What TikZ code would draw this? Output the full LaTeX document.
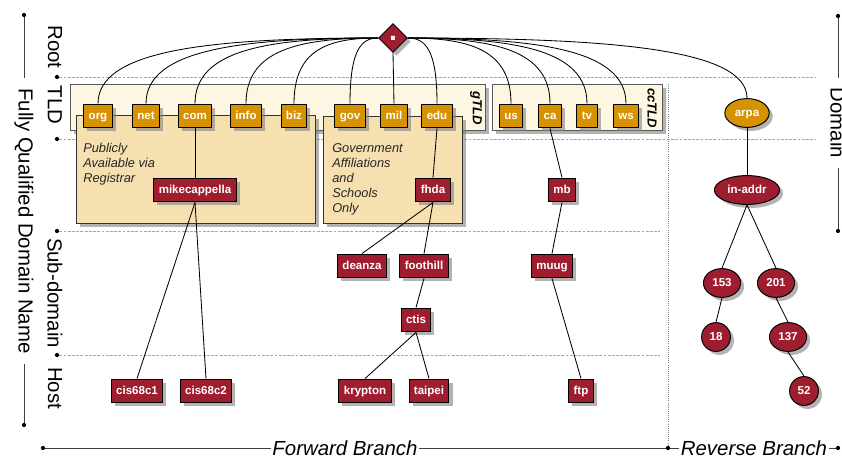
\documentclass[tikz,border=0pt]{standalone}
\usepackage{fontspec}
\setmainfont{Liberation Sans}
\usetikzlibrary{shapes.geometric,shadows,calc}

\definecolor{dnsred}{RGB}{158,30,48}
\definecolor{dnsorange}{RGB}{214,146,0}
\definecolor{wheatfill}{RGB}{246,224,176}
\definecolor{creamfill}{RGB}{253,246,226}

\begin{document}
\begin{tikzpicture}[x=0.025cm, y=-0.025cm,
	shade/.style={drop shadow={shadow xshift=2.5pt, shadow yshift=-2.5pt, opacity=0.6}},
	hostbox/.style={draw=black, line width=0.7pt, fill=dnsred, text=white, shade,
		font=\fontsize{8.2}{10}\selectfont\bfseries, text height=6pt, text depth=1.7pt,
		inner xsep=3.5pt, inner ysep=0pt, minimum height=17pt},
	tldbox/.style={hostbox, fill=dnsorange},
	revnode/.style={hostbox, ellipse, inner xsep=2.5pt, minimum height=20.5pt, minimum width=20.5pt},
	rootnode/.style={diamond, draw=black, line width=0.7pt, fill=dnsred, text=white, shade,
		font=\fontsize{20}{20}\selectfont\bfseries, inner sep=0pt, minimum width=20.5pt, minimum height=20.5pt},
	groupbox/.style={draw=black!65, line width=0.6pt, fill=creamfill, shade},
	policybox/.style={draw=black!80, line width=0.6pt, fill=wheatfill, shade},
	grouplabel/.style={rotate=-90, font=\fontsize{9.3}{11}\selectfont\bfseries\itshape},
	policytext/.style={anchor=north west, align=left, inner sep=0pt, text=black!85,
		font=\fontsize{9.1}{10.7}\selectfont\itshape},
	axislabel/.style={rotate=-90, font=\fontsize{14.5}{17}\selectfont},
	branchlabel/.style={font=\fontsize{14.5}{17}\selectfont\itshape, inner xsep=1pt, inner ysep=0pt},
	leveldot/.style={circle, fill=black, inner sep=0pt, minimum size=3pt},
	levelline/.style={gray!70, line width=0.4pt, dash pattern=on 2pt off 1pt},
	splitline/.style={gray, line width=0.5pt, densely dotted},
	axisline/.style={black!75, line width=0.7pt},
	treeedge/.style={line width=0.6pt}]

	\useasboundingbox (0,0) rectangle (842,457);

	% levels
	\node[leveldot] (rootdot) at (57,77) {};
	\node[leveldot] (tlddot) at (57,139) {};
	\node[leveldot] (subdot) at (57,231) {};
	\node[leveldot] (hostdot) at (57,355) {};
	\coordinate (rootend) at (815,77);
	\coordinate (tldend) at (815,139);
	\coordinate (subend) at (660,231);
	\coordinate (hostend) at (660,355);
	\draw[levelline] (rootdot) -- (rootend);
	\draw[levelline] (tlddot) -- (tldend);
	\draw[levelline] (subdot) -- (subend);
	\draw[levelline] (hostdot) -- (hostend);

	\node[axislabel] (rootlbl) at (55,47) {Root};
	\node[axislabel] (tldlbl) at (55,105) {TLD};
	\node[axislabel] (sublbl) at (55,293) {Sub-domain};
	\node[axislabel] (hostlbl) at (55,388) {Host};

	% side and bottom axes
	\node[leveldot] (fqdntop) at (24,15) {};
	\node[axislabel, inner xsep=7pt] (fqdn) at (24,221) {Fully Qualified Domain Name};
	\node[leveldot] (fqdnbot) at (24,425) {};
	\draw[axisline] (fqdntop) -- (fqdn.west);
	\draw[axisline] (fqdn.east) -- (fqdnbot);

	\node[leveldot] (domtop) at (838,16) {};
	\node[axislabel, inner xsep=7pt] (domain) at (838,123) {Domain};
	\node[leveldot] (dombot) at (838,231) {};
	\draw[axisline] (domtop) -- (domain.west);
	\draw[axisline] (domain.east) -- (dombot);

	\node[leveldot] (fwdstart) at (43,448) {};
	\node[branchlabel] (fwd) at (345,448) {Forward Branch};
	\node[leveldot] (splitdot) at (668,448) {};
	\node[branchlabel] (rev) at (754,448) {Reverse Branch};
	\node[leveldot] (revend) at (838,448) {};
	\draw[axisline] (fwdstart) -- (fwd) -- (splitdot) -- (rev) -- (revend);
	\coordinate (splittop) at (668,84);
	\draw[splitline] (splittop) -- (splitdot);

	% TLD groups
	\draw[groupbox] (70,84) rectangle (485,130);
	\node[grouplabel] (gtld) at (476,108) {gTLD};
	\draw[groupbox] (492,84) rectangle (662,130);
	\node[grouplabel] (cctld) at (652,108) {ccTLD};
	\draw[policybox] (76,115) rectangle (315,223);
	\draw[policybox] (323,116) rectangle (462,223);
	\node[policytext] (pubtext) at (83,143) {Publicly\\Available via\\Registrar};
	\node[policytext] (govtext) at (332,143) {Government\\Affiliations\\and\\Schools\\Only};

	% nodes
	\node[rootnode] (root) at (393,38) {.};
	\foreach \n/\x in {org/98, net/146, com/195, info/246, biz/294, gov/350,
		mil/394, edu/437, us/511, ca/550, tv/587, ws/626}
		\node[tldbox] (\n) at (\x,116) {\n};
	\node[revnode, fill=dnsorange] (arpa) at (747,113) {arpa};

	\node[hostbox] (mikecappella) at (195,190) {mikecappella};
	\node[hostbox] (fhda) at (433,190) {fhda};
	\node[hostbox] (mb) at (562,190) {mb};
	\node[revnode] (inaddr) at (747,190) {in-addr};
	\node[hostbox] (deanza) at (362,266) {deanza};
	\node[hostbox] (foothill) at (424,266) {foothill};
	\node[hostbox] (muug) at (552,266) {muug};
	\node[hostbox] (ctis) at (416,320) {ctis};
	\node[hostbox] (cisA) at (137,391) {cis68c1};
	\node[hostbox] (cisB) at (206,391) {cis68c2};
	\node[hostbox] (krypton) at (365,391) {krypton};
	\node[hostbox] (taipei) at (429,391) {taipei};
	\node[hostbox] (ftp) at (581,391) {ftp};
	\node[revnode] (r153) at (722,283) {153};
	\node[revnode] (r201) at (776,283) {201};
	\node[revnode] (r18) at (716,337) {18};
	\node[revnode] (r137) at (788,337) {137};
	\node[revnode] (r52) at (804,391) {52};

	% connectors
	\foreach \t in {org,net,com,info,biz,gov}
		\draw[treeedge] (root.west) .. controls ($(root.west)!0.6!(\t.north |- root.west)$)
			and ($(\t.north)!0.82!(\t.north |- root.west)$) .. (\t.north);
	\foreach \t in {edu,us,ca,tv,ws,arpa}
		\draw[treeedge] (root.east) .. controls ($(root.east)!0.6!(\t.north |- root.east)$)
			and ($(\t.north)!0.82!(\t.north |- root.east)$) .. (\t.north);
	\draw[treeedge] (root.south) -- (mil.north);

	\foreach \a/\b in {com/mikecappella, mikecappella/cisA, mikecappella/cisB,
		edu/fhda, fhda/deanza, fhda/foothill, foothill/ctis, ctis/krypton, ctis/taipei,
		ca/mb, mb/muug, muug/ftp, arpa/inaddr, inaddr/r153, inaddr/r201,
		r153/r18, r201/r137, r137/r52}
		\draw[treeedge] (\a.south) -- (\b.north);

\end{tikzpicture}
\end{document}
